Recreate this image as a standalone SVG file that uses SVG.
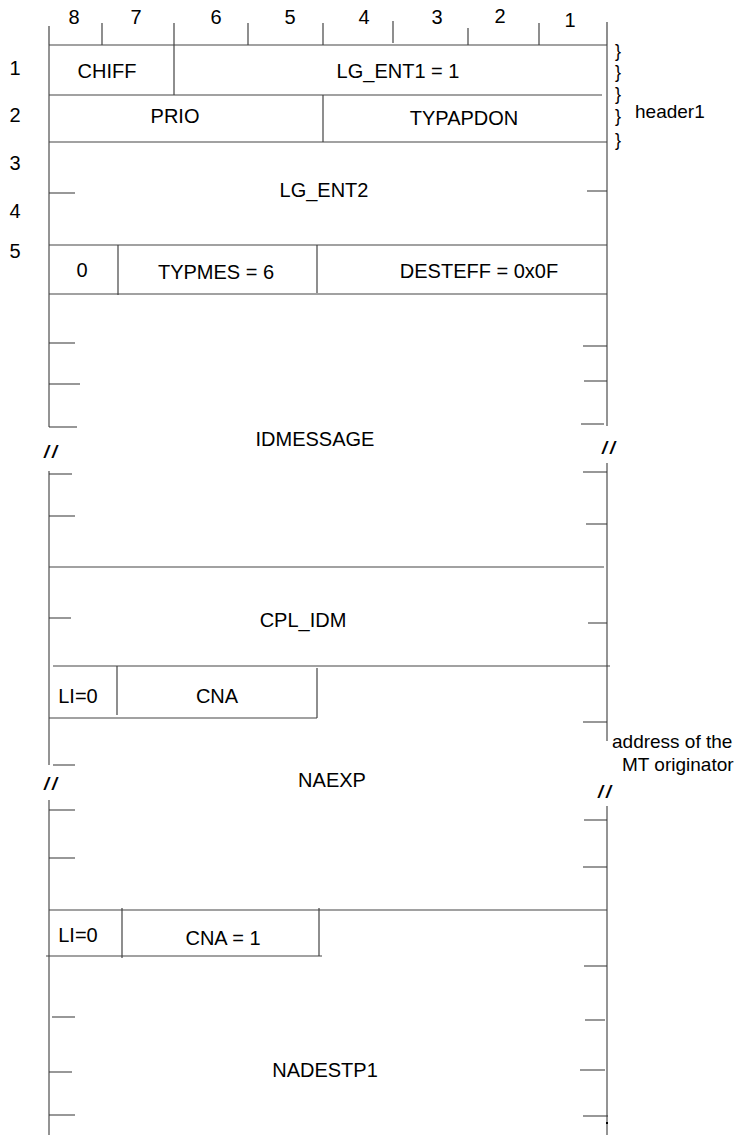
<svg xmlns="http://www.w3.org/2000/svg" width="740" height="1135" viewBox="0 0 740 1135">
<style>
.t{font-family:"Liberation Sans",Arial,sans-serif;font-size:20px;fill:#000;text-anchor:middle}
.n{font-family:"Liberation Sans",Arial,sans-serif;font-size:20px;fill:#000;text-anchor:middle}
.s{font-family:"Liberation Sans",Arial,sans-serif;font-size:19px;fill:#000;text-anchor:start}
.br{font-family:"Liberation Sans",Arial,sans-serif;font-size:18px;fill:#000;text-anchor:middle}
.cut{font-family:"Liberation Sans",Arial,sans-serif;font-size:18px;font-style:italic;font-weight:bold;fill:#000;text-anchor:middle;letter-spacing:3px}
.h{stroke:#444;stroke-width:1.2;fill:none}
.v{stroke:#7a7a7a;stroke-width:1.6;fill:none}
.k{stroke:#333;stroke-width:1.1;fill:none}
</style>
<rect width="740" height="1135" fill="#fff"/>
<g id="ruler">
<path class="k" d="M49,26V45M102,23V45M174,23V45M248,23V45M323,23V45M393,21V43M468,28V45M539,23V45M607,22V45"/>
<text class="n" x="74" y="24">8</text>
<text class="n" x="136" y="24">7</text>
<text class="n" x="216" y="24">6</text>
<text class="n" x="290" y="24">5</text>
<text class="n" x="364" y="24">4</text>
<text class="n" x="437" y="24">3</text>
<text class="n" x="500" y="23">2</text>
<text class="n" x="570" y="27">1</text>
</g>
<g id="rowlabels">
<text class="t" x="15" y="75">1</text>
<text class="t" x="15" y="122">2</text>
<text class="t" x="15" y="170">3</text>
<text class="t" x="15" y="218">4</text>
<text class="t" x="15" y="258">5</text>
</g>
<g id="frame">
<path class="v" d="M49,45V427M49,471V765M49,800V1135"/>
<path class="v" d="M607,45V426M607,463V741M607,806V1135"/>
<text class="cut" x="52" y="458">//</text>
<text class="cut" x="610" y="454">//</text>
<text class="cut" x="52" y="790">//</text>
<text class="cut" x="606" y="798">//</text>
</g>
<g id="CHIFF">
<path class="h" d="M49,45H607M174,45V95"/>
<text class="t" x="107" y="78">CHIFF</text>
</g>
<g id="LG_ENT1">
<path class="h" d="M49,95H602"/>
<text class="t" x="398" y="78">LG_ENT1 = 1</text>
</g>
<g id="PRIO">
<path class="h" d="M323,95V142"/>
<text class="t" x="175" y="123">PRIO</text>
</g>
<g id="TYPAPDON">
<path class="h" d="M49,142H607"/>
<text class="t" x="464" y="125">TYPAPDON</text>
</g>
<g id="header1">
<text class="br" x="618" y="57">}</text>
<text class="br" x="618" y="78">}</text>
<text class="br" x="618" y="100">}</text>
<text class="br" x="618" y="122">}</text>
<text class="br" x="618" y="146">}</text>
<text class="s" x="635" y="118">header1</text>
</g>
<g id="LG_ENT2">
<path class="k" d="M49,193H75M587,191H607"/>
<path class="h" d="M49,245H607"/>
<text class="t" x="324" y="197">LG_ENT2</text>
</g>
<g id="bit0">
<path class="h" d="M118,245V295"/>
<text class="t" x="82" y="277">0</text>
</g>
<g id="TYPMES">
<path class="h" d="M317,245V293"/>
<text class="t" x="216" y="279">TYPMES = 6</text>
</g>
<g id="DESTEFF">
<path class="h" d="M49,294H607"/>
<text class="t" x="479" y="278">DESTEFF = 0x0F</text>
</g>
<g id="IDMESSAGE">
<path class="k" d="M49,343H75M49,384H80M49,427H77M49,474H72M49,516H75"/>
<path class="k" d="M583,346H607M584,381H607M581,424H604M583,472H607M586,524H607"/>
<path class="h" d="M49,567H604"/>
<text class="t" x="315" y="446">IDMESSAGE</text>
</g>
<g id="CPL_IDM">
<path class="k" d="M49,618H71M588,623H607"/>
<path class="h" d="M53,666H610"/>
<text class="t" x="303" y="627">CPL_IDM</text>
</g>
<g id="LI1">
<path class="h" d="M117,666V715"/>
<text class="t" x="78" y="703">LI=0</text>
</g>
<g id="CNA1">
<path class="h" d="M317,668V718M49,718H317"/>
<text class="t" x="217" y="703">CNA</text>
</g>
<g id="NAEXP">
<path class="k" d="M53,765H75M49,810H75M49,858H75"/>
<path class="k" d="M583,722H607M584,820H607M583,867H607"/>
<path class="h" d="M49,910H607"/>
<text class="t" x="332" y="787">NAEXP</text>
<text class="s" x="612" y="748">address of the</text>
<text class="s" x="622" y="771">MT originator</text>
</g>
<g id="LI2">
<path class="h" d="M122,908V958"/>
<text class="t" x="78" y="942">LI=0</text>
</g>
<g id="CNA2">
<path class="h" d="M319,908V956M46,956H322"/>
<text class="t" x="223" y="945">CNA = 1</text>
</g>
<g id="NADESTP1">
<path class="k" d="M52,1017H75M49,1072H72M49,1115H75"/>
<path class="k" d="M584,966H607M585,1020H605M580,1070H605M583,1116H608"/>
<rect x="606" y="1122" width="2" height="2" fill="#000"/>
<text class="t" x="325" y="1077">NADESTP1</text>
</g>
</svg>
